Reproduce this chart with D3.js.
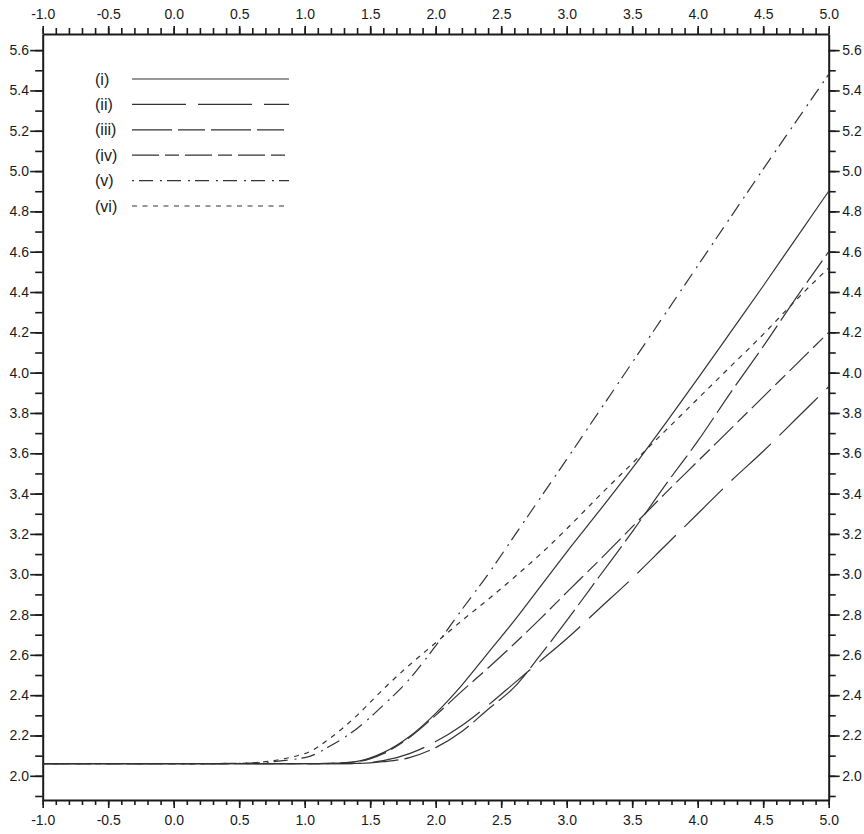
<!DOCTYPE html>
<html>
<head>
<meta charset="utf-8">
<script src="https://cdn.jsdelivr.net/npm/d3@7"></script>
<style>
  body { margin: 0; background: #fff; }
  .axis text { font-family: "Liberation Sans", Arial, sans-serif; font-size: 14px; fill: #1a1a1a; }
  .axis path, .axis line { stroke: #1a1a1a; }
  .axis path { stroke-width: 2; }
  .axis line { stroke-width: 1.6; }
</style>
</head>
<body>
<div class="canvas"></div>
<script>
// data
const xValues = [-1.0, 0.0, 0.5, 1.0, 1.2, 1.4, 1.6, 1.8, 2.0, 2.2, 2.4, 2.6, 2.8, 3.0, 3.25, 3.5, 3.75, 4.0, 4.25, 4.5, 4.75, 5.0];
const seriesI   = [2.06, 2.06, 2.06, 2.06, 2.062, 2.072, 2.115, 2.195, 2.31, 2.45, 2.61, 2.77, 2.94, 3.11, 3.315, 3.525, 3.745, 3.97, 4.20, 4.43, 4.665, 4.90];
const seriesII  = [2.06, 2.06, 2.06, 2.06, 2.06, 2.062, 2.075, 2.11, 2.17, 2.25, 2.35, 2.46, 2.57, 2.68, 2.83, 2.98, 3.14, 3.30, 3.46, 3.61, 3.77, 3.93];
const seriesIII = [2.06, 2.06, 2.06, 2.06, 2.06, 2.061, 2.07, 2.09, 2.14, 2.22, 2.33, 2.44, 2.60, 2.77, 2.99, 3.21, 3.44, 3.66, 3.90, 4.13, 4.37, 4.60];
const seriesIV  = [2.06, 2.06, 2.06, 2.06, 2.062, 2.07, 2.11, 2.19, 2.30, 2.42, 2.535, 2.655, 2.78, 2.91, 3.07, 3.235, 3.40, 3.56, 3.72, 3.88, 4.04, 4.20];
const seriesV   = [2.06, 2.06, 2.062, 2.09, 2.15, 2.235, 2.35, 2.48, 2.645, 2.825, 3.00, 3.19, 3.38, 3.57, 3.81, 4.05, 4.29, 4.53, 4.77, 5.01, 5.245, 5.48];
const seriesVI  = [2.06, 2.06, 2.062, 2.11, 2.19, 2.30, 2.43, 2.55, 2.66, 2.77, 2.875, 2.985, 3.10, 3.225, 3.39, 3.55, 3.71, 3.87, 4.03, 4.19, 4.36, 4.52];

const seriesNames = ["(i)", "(ii)", "(iii)", "(iv)", "(v)", "(vi)"];
const xTickValues = [-1.0, -0.5, 0.0, 0.5, 1.0, 1.5, 2.0, 2.5, 3.0, 3.5, 4.0, 4.5, 5.0];
const yTickValues = [2.0, 2.2, 2.4, 2.6, 2.8, 3.0, 3.2, 3.4, 3.6, 3.8, 4.0, 4.2, 4.4, 4.6, 4.8, 5.0, 5.2, 5.4, 5.6];

const allSeries = [seriesI, seriesII, seriesIII, seriesIV, seriesV, seriesVI];
const dashes = ["none", "54,12", "40,6,27,6", "27,6,14,6", "2,5,14,7", "5,5.5"];

const width = 864, height = 834;
const svg = d3.select(".canvas").append("svg")
    .attr("width", width)
    .attr("height", height);

//plot frame
const frame = {left: 42.7, right: 828.7, top: 34, bottom: 800};

const x = d3.scaleLinear().domain([-1, 5]).range([frame.left, frame.right]);
const y = d3.scaleLinear().domain([1.88, 5.68]).range([frame.bottom, frame.top]);

//plain hyphen for negatives, like the original
const fmt = d => d.toFixed(1);
const xMinor = d3.range(-10, 51).map(d => d / 10);
const yMinor = d3.range(19, 57).map(d => d / 10);

//minor ticks first, then major ticks with labels
function drawAxis(axisFn, scale, transform, minorLen, majorLen, ticks, pad, minor) {
  const g = svg.append("g").attr("class", "axis").attr("transform", transform);
  g.call(axisFn(scale).tickValues(minor).tickSize(minorLen).tickSizeOuter(0).tickFormat(""));
  g.select(".domain").remove();
  const g2 = svg.append("g").attr("class", "axis").attr("transform", transform);
  g2.call(axisFn(scale).tickValues(ticks).tickSize(majorLen).tickSizeOuter(0).tickPadding(pad).tickFormat(fmt));
  return g2;
}

drawAxis(d3.axisTop, x, `translate(0,${frame.top})`, 6, 8, xTickValues, 7, xMinor);
drawAxis(d3.axisBottom, x, `translate(0,${frame.bottom})`, 5, 8, xTickValues, 7, xMinor);
drawAxis(d3.axisLeft, y, `translate(${frame.left},0)`, 7.5, 12.5, yTickValues, 1.2, yMinor);
drawAxis(d3.axisRight, y, `translate(${frame.right},0)`, 7, 11, yTickValues, 2.5, yMinor);

//curves
const line = d3.line()
    .x((d, i) => x(xValues[i]))
    .y(d => y(d))
    .curve(d3.curveMonotoneX);

svg.append("g").selectAll("path")
  .data(allSeries)
  .enter()
  .append("path")
    .attr("d", line)
    .attr("fill", "none")
    .attr("stroke", "#333")
    .attr("stroke-width", 1.2)
    .attr("stroke-dasharray", (d, i) => dashes[i]);

//legend
const legend = svg.append("g")
    .attr("transform", "translate(95, 79)");

const rows = legend.selectAll("g")
  .data(seriesNames)
  .enter()
  .append("g")
    .attr("transform", (d, i) => `translate(0, ${i * 25.4})`);

rows.append("text")
    .attr("x", 0)
    .attr("y", 0)
    .attr("dy", "0.35em")
    .style("font-family", "'Liberation Sans', Arial, sans-serif")
    .style("font-size", "16px")
    .style("fill", "#1a1a1a")
    .text(d => d);

rows.append("line")
    .attr("x1", 37)
    .attr("x2", 194)
    .attr("y1", 0)
    .attr("y2", 0)
    .attr("stroke", "#333")
    .attr("stroke-width", 1.2)
    .attr("stroke-dasharray", (d, i) => dashes[i]);
</script>
</body>
</html>
